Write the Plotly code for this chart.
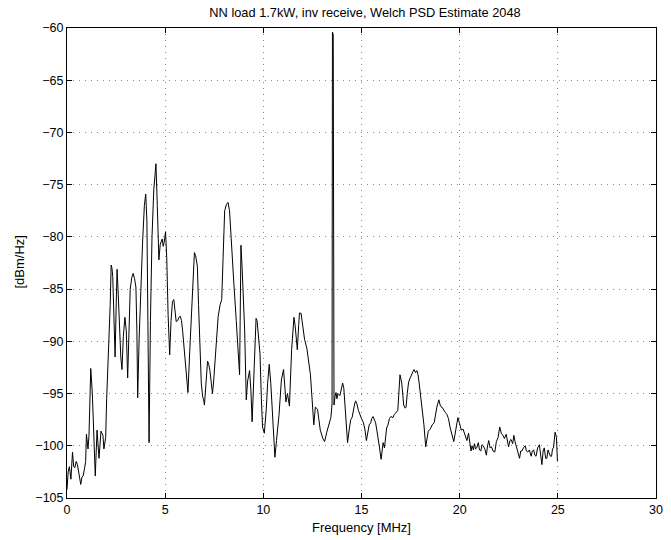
import plotly.graph_objects as go

freq_mhz = [0.00,0.06,0.12,0.20,0.28,0.34,0.40,0.47,0.53,0.59,0.65,0.70,0.76,0.82,0.90,0.95,0.99,1.03,1.07,1.12,
1.21,1.29,1.36,1.44,1.53,1.58,1.63,1.73,1.78,1.83,1.88,1.94,1.97,2.02,2.08,2.13,2.20,2.25,2.29,2.33,
2.40,2.45,2.50,2.55,2.61,2.67,2.74,2.80,2.87,2.95,3.02,3.09,3.15,3.22,3.30,3.37,3.44,3.51,3.56,3.60,
3.67,3.75,3.85,3.94,4.01,4.07,4.12,4.18,4.25,4.33,4.42,4.48,4.53,4.60,4.68,4.75,4.85,4.90,4.95,5.02,
5.08,5.15,5.23,5.30,5.37,5.44,5.50,5.56,5.64,5.70,5.77,5.83,5.89,5.95,6.02,6.10,6.16,6.25,6.36,6.43,
6.49,6.55,6.60,6.64,6.70,6.76,6.84,6.91,6.96,7.00,7.08,7.16,7.22,7.28,7.35,7.41,7.47,7.53,7.62,7.70,
7.80,7.88,7.95,8.03,8.12,8.20,8.28,8.38,8.50,8.62,8.70,8.79,8.82,8.86,8.92,9.00,9.05,9.13,9.20,9.30,
9.37,9.43,9.50,9.57,9.63,9.68,9.76,9.83,9.90,9.96,10.05,10.15,10.22,10.30,10.38,10.45,10.52,10.59,10.67,10.80,
10.92,10.97,11.03,11.10,11.15,11.23,11.33,11.44,11.56,11.62,11.68,11.73,11.80,11.84,11.92,12.00,12.10,12.22,12.32,12.40,
12.50,12.57,12.65,12.76,12.83,12.90,13.03,13.12,13.23,13.30,13.37,13.44,13.50,13.52,13.56,13.60,13.65,13.70,13.75,13.80,
13.90,14.04,14.10,14.16,14.22,14.29,14.37,14.45,14.52,14.58,14.65,14.70,14.77,14.84,14.90,15.00,15.10,15.18,15.25,15.32,
15.39,15.47,15.52,15.59,15.66,15.72,15.78,15.84,15.92,16.00,16.05,16.10,16.17,16.22,16.28,16.35,16.42,16.50,16.60,16.67,
16.73,16.85,16.92,16.96,17.05,17.10,17.15,17.22,17.27,17.33,17.40,17.48,17.55,17.62,17.68,17.75,17.82,17.88,17.93,18.00,
18.10,18.18,18.27,18.33,18.40,18.50,18.60,18.70,18.78,18.85,18.94,19.02,19.10,19.18,19.27,19.35,19.43,19.52,19.61,19.70,
19.80,19.91,20.00,20.08,20.17,20.25,20.31,20.37,20.45,20.52,20.58,20.63,20.70,20.75,20.81,20.87,20.95,21.01,21.08,21.14,
21.20,21.28,21.36,21.42,21.48,21.55,21.62,21.70,21.79,21.87,21.96,22.04,22.12,22.20,22.28,22.37,22.43,22.49,22.56,22.62,
22.70,22.76,22.82,22.88,22.96,23.05,23.11,23.17,23.25,23.34,23.40,23.47,23.55,23.64,23.70,23.77,23.83,23.89,23.97,24.06,
24.12,24.19,24.25,24.31,24.38,24.44,24.50,24.56,24.62,24.68,24.73,24.78,24.86,24.93,24.98]

psd_dbm_hz = [-104.2,-102.5,-102.0,-103.2,-100.6,-102.0,-102.1,-101.5,-101.8,-102.4,-103.0,-103.7,-103.0,-102.9,-102.1,-101.5,-98.9,-100.0,-100.3,-99.0,
-92.6,-95.0,-99.5,-102.9,-98.5,-99.5,-101.2,-98.6,-98.8,-99.0,-100.3,-99.4,-99.2,-95.5,-93.0,-90.8,-86.5,-82.7,-83.0,-83.8,
-88.5,-91.5,-87.0,-83.1,-85.5,-88.7,-91.5,-92.7,-89.5,-87.7,-89.0,-93.5,-89.5,-85.0,-83.9,-83.5,-84.0,-84.8,-89.0,-95.4,
-90.0,-85.0,-80.5,-77.0,-75.9,-78.5,-87.0,-99.7,-88.0,-80.0,-75.5,-73.5,-73.0,-77.0,-82.2,-80.7,-80.2,-80.9,-80.5,-79.5,
-82.0,-87.5,-91.3,-88.0,-86.2,-86.0,-87.2,-88.1,-88.0,-87.7,-87.6,-88.0,-89.0,-90.5,-92.0,-94.0,-94.9,-91.0,-86.0,-83.0,
-81.5,-81.8,-82.5,-82.8,-86.5,-90.8,-94.0,-95.3,-95.6,-96.1,-93.5,-91.9,-92.2,-92.8,-94.0,-95.0,-93.8,-92.1,-89.5,-87.6,
-86.5,-86.0,-82.0,-77.5,-76.9,-76.7,-77.5,-81.0,-84.5,-88.0,-90.5,-93.2,-88.0,-80.8,-83.0,-87.0,-89.0,-95.6,-93.8,-92.8,
-94.8,-97.7,-94.0,-89.5,-87.8,-88.0,-89.5,-91.2,-95.5,-98.2,-98.8,-96.5,-94.0,-92.2,-94.0,-96.4,-99.0,-101.1,-99.5,-97.0,
-93.7,-93.3,-92.7,-94.5,-95.8,-95.0,-96.2,-90.8,-87.7,-88.5,-90.0,-90.8,-88.5,-87.3,-87.3,-88.5,-89.8,-90.7,-92.0,-93.2,
-96.0,-98.0,-96.3,-96.5,-97.5,-98.5,-99.3,-99.6,-98.7,-98.2,-97.6,-97.3,-96.0,-60.4,-60.6,-96.1,-95.3,-94.9,-95.5,-95.0,
-95.2,-94.0,-94.5,-96.0,-98.0,-99.7,-98.5,-97.5,-97.3,-96.5,-96.0,-95.7,-96.0,-96.6,-97.0,-97.4,-97.8,-98.5,-99.5,-98.8,
-98.0,-97.8,-97.4,-97.2,-97.5,-97.8,-98.5,-99.1,-100.2,-101.3,-100.0,-99.7,-100.2,-99.0,-98.3,-98.0,-97.4,-97.2,-97.3,-97.0,
-96.9,-96.6,-94.5,-93.2,-94.0,-95.5,-96.1,-96.4,-96.3,-95.0,-93.9,-93.5,-93.1,-92.9,-92.7,-93.0,-92.8,-93.2,-93.9,-95.0,
-96.3,-98.0,-100.1,-99.5,-98.6,-98.4,-98.0,-97.8,-96.8,-96.2,-95.6,-96.2,-96.3,-96.6,-96.8,-97.0,-97.4,-98.3,-99.1,-99.6,
-98.5,-97.3,-97.9,-98.5,-98.4,-98.8,-99.2,-99.5,-98.8,-99.8,-100.5,-100.0,-100.4,-99.8,-100.3,-100.2,-99.7,-100.4,-100.5,-99.9,
-100.0,-100.3,-100.9,-100.0,-99.5,-100.2,-100.1,-100.5,-100.6,-99.6,-99.2,-98.2,-98.8,-99.0,-99.3,-98.9,-99.6,-100.1,-99.5,-99.4,
-99.8,-99.0,-99.6,-100.0,-100.5,-101.2,-100.5,-100.5,-100.2,-100.0,-100.5,-100.6,-100.4,-101.0,-100.5,-100.4,-100.9,-101.0,-100.2,-99.9,
-100.8,-101.8,-100.5,-100.2,-101.2,-101.2,-100.4,-100.7,-101.0,-101.0,-100.3,-100.2,-98.7,-99.2,-101.5]

x_ticks = [0, 5, 10, 15, 20, 25, 30]
y_ticks = [-105, -100, -95, -90, -85, -80, -75, -70, -65, -60]

title_text = "NN load 1.7kW, inv receive, Welch PSD Estimate 2048"
x_label = "Frequency [MHz]"
y_label = "[dBm/Hz]"

font_family = "Liberation Sans, Arial, Helvetica, sans-serif"

W, H = 671, 540
L, R, T, B = 67, 663, 28, 498

fig = go.Figure()
fig.add_trace(go.Scatter(x=freq_mhz, y=psd_dbm_hz, mode="lines",
                         line=dict(color="black", width=1), showlegend=False,
                         hoverinfo="skip"))

axis_common = dict(
    showline=True, linecolor="black", linewidth=1, mirror="ticks",
    ticks="inside", ticklen=5, tickcolor="black", tickwidth=1,
    showgrid=True, gridcolor="#8a8a8a", gridwidth=1, griddash="1px,5px",
    zeroline=False, tickfont=dict(family=font_family, size=12.5, color="black"),
)

fig.update_xaxes(range=[0, 30], tickvals=x_ticks, ticktext=[str(v) for v in x_ticks],
                 **axis_common)
fig.update_yaxes(range=[-105, -60], tickvals=y_ticks,
                 ticktext=["\u2212" + str(abs(v)) for v in y_ticks],
                 **axis_common)

pw, ph = R - L, B - T
fig.add_annotation(text=x_label, xref="paper", yref="paper",
                   x=0.5, y=-(527 - B) / ph, xanchor="center", yanchor="middle",
                   showarrow=False, font=dict(family=font_family, size=13, color="black"))
fig.add_annotation(text=y_label, xref="paper", yref="paper",
                   x=-(L - 18) / pw, y=1 - (262 - T) / ph, xanchor="center", yanchor="middle",
                   textangle=-90, showarrow=False,
                   font=dict(family=font_family, size=13, color="black"))

fig.update_layout(
    width=W, height=H,
    margin=dict(l=L, r=W - R, t=T, b=H - B, pad=0),
    paper_bgcolor="white", plot_bgcolor="white",
    title=dict(text=title_text, x=(L + R) / 2 / W, xanchor="center",
               y=1 - 13 / H, yanchor="middle", yref="container",
               font=dict(family=font_family, size=12.8, color="black")),
    font=dict(family=font_family, size=12, color="black"),
)

fig.write_html("out.html")
